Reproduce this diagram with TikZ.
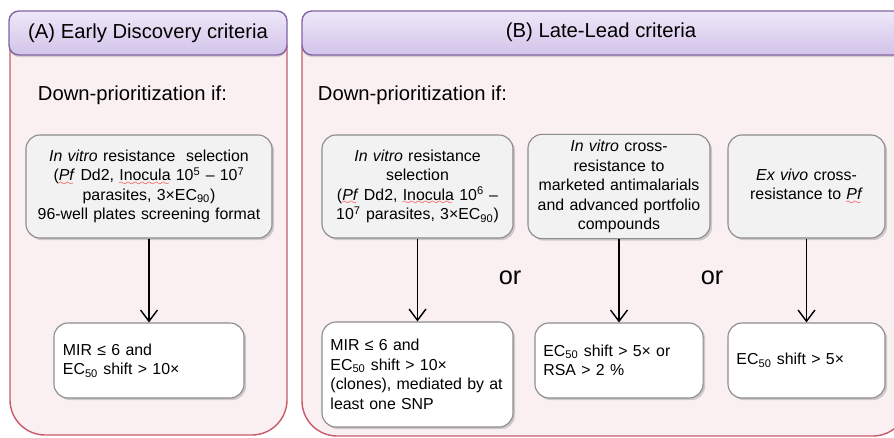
\documentclass[tikz,border=0pt]{standalone}
\usepackage{fontspec}
\setmainfont{Liberation Sans}
\usetikzlibrary{positioning, arrows.meta, shadows}

\definecolor{headline}{HTML}{8064A2}
\definecolor{headtop}{HTML}{EEE8F8}
\definecolor{headbot}{HTML}{D3C3EA}
\definecolor{panelline}{HTML}{C85A6A}
\definecolor{panelfill}{HTML}{FAF0F2}
\definecolor{boxline}{HTML}{8C8C8C}
\definecolor{boxfill}{HTML}{F2F2F2}

\newcommand{\hdrfont}{\fontsize{14.4}{17}\selectfont}
\newcommand{\critfont}{\fontsize{11.3}{13.9}\selectfont}
\newcommand{\orfont}{\fontsize{18}{20}\selectfont}

% red spell-check wave under a word
\font\wavefont=lasy6
\newcommand{\spellmark}[1]{\setbox0\hbox{#1}%
    \rlap{\textcolor{red}{\leaders\hbox{\lower3pt\hbox{\wavefont\char58}}\hskip\wd0}}\box0\relax}

\begin{document}
\begin{tikzpicture}[x=0.025cm, y=-0.025cm,
    % Style definitions
    header/.style={
        draw=headline, line width=1pt, top color=headtop, bottom color=headbot,
        rounded corners=7pt,
        drop shadow={shadow xshift=0pt, shadow yshift=-1.5pt, opacity=0.3}
    },
    panel/.style={
        draw=panelline, line width=1pt, fill=panelfill, rounded corners=25pt
    },
    critbox/.style={
        rectangle, rounded corners=10pt, draw=boxline, line width=0.8pt,
        fill=boxfill, minimum height=2.575cm, inner sep=4pt,
        font=\critfont, align=center,
        drop shadow={shadow xshift=1.5pt, shadow yshift=-1.5pt, opacity=0.35}
    },
    resultbox/.style={
        critbox, fill=white, minimum height=1.875cm, inner sep=6pt, align=left
    },
    paneltitle/.style={font=\hdrfont},
    downlabel/.style={font=\hdrfont, anchor=west},
    orlabel/.style={font=\orfont},
    downarrow/.style={
        -{Straight Barb[length=8pt, width=12pt]}, line width=1pt, black
    },
]
\useasboundingbox (0,0) rectangle (894,437);

% === Panel bodies ===
\draw[panel] (10,15) rectangle (287,435);
\draw[panel] (302,15) rectangle (908,436);

% === Panel headers ===
\draw[header] (9,11) rectangle (287,55);
\draw[header] (302,11) rectangle (912,55);
\node[paneltitle] (titleA) at (148,33) {(A) Early Discovery criteria};
\node[paneltitle] (titleB) at (601,32) {(B) Late-Lead criteria};

\node[downlabel] (downA) at (33,95) {Down-prioritization if:};
\node[downlabel] (downB) at (313,95) {Down-prioritization if:};

% === (A) Early Discovery ===
\node[critbox, minimum width=6.15cm, text width=5.8cm] (aSel) at (149,186.5)
    {\textit{In vitro} resistance\ \ selection\\
     (\spellmark{\textit{Pf}} Dd2, \spellmark{Inocula} 10\textsuperscript{5} – 10\textsuperscript{7}\\
     parasites, 3×EC\textsubscript{90})\\
     96-well plates screening format};
\node[resultbox, minimum width=4.75cm, text width=4.3cm] (aRes) at (149,360.5)
    {MIR ≤ 6 and\\EC\textsubscript{50} shift > 10×};

% === (B) Late-Lead ===
\node[critbox, minimum width=4.775cm, text width=4.45cm] (bSel) at (417.5,186.5)
    {\textit{In vitro} resistance\\
     selection\\
     (\spellmark{\textit{Pf}} Dd2, \spellmark{Inocula} 10\textsuperscript{6} –\\
     10\textsuperscript{7} parasites, 3×EC\textsubscript{90})};
\node[critbox, minimum width=4.55cm, text width=4.25cm] (bCross) at (619,186.5)
    {\textit{In vitro} cross-\\
     resistance to\\
     marketed antimalarials\\
     and advanced portfolio\\
     compounds};
\node[critbox, minimum width=3.925cm, text width=3.6cm] (bEx) at (806.5,186.5)
    {\textit{Ex vivo} cross-\\resistance to \spellmark{\textit{Pf}}};

\node[resultbox, minimum width=4.775cm, minimum height=2.625cm, text width=4.35cm] (bSelRes) at (417.5,374.5)
    {MIR ≤ 6 and\\
     EC\textsubscript{50} shift > 10×\\
     (clones), mediated by at\\
     least one SNP};
\node[resultbox, minimum width=4.2cm, text width=3.78cm] (bCrossRes) at (619,360.5)
    {EC\textsubscript{50} shift > 5× or\\RSA > 2 \%};
\node[resultbox, minimum width=3.925cm, text width=3.5cm] (bExRes) at (806.5,360.5)
    {EC\textsubscript{50} shift > 5×};

\node[orlabel] (orA) at (510,278) {or};
\node[orlabel] (orB) at (712,278) {or};

% === Arrows ===
\draw[downarrow] (aSel.south) -- (aRes.north);
\draw[downarrow] (bSel.south) -- (bSelRes.north);
\draw[downarrow] (bCross.south) -- (bCrossRes.north);
\draw[downarrow] (bEx.south) -- (bExRes.north);

\end{tikzpicture}
\end{document}
